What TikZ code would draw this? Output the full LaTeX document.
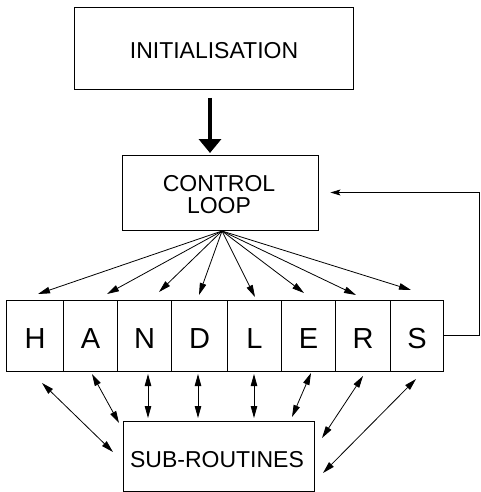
\documentclass[tikz,border=0pt]{standalone}
\usepackage{fontspec}
\setmainfont{Liberation Sans}
\usetikzlibrary{arrows.meta}
\begin{document}
\begin{tikzpicture}[x=1pt,y=-1pt,line width=0.8pt,
  box/.style={draw,rectangle,inner sep=0pt,line width=0.9pt},
  lbl/.style={inner sep=0pt,anchor=base,font=\fontsize{23}{22}\selectfont},
  big/.style={inner sep=0pt,anchor=base,font=\fontsize{29}{29}\selectfont},
  head/.style={Triangle[length=12pt,width=6.5pt]},
  tip/.style={-{Triangle[length=12pt,width=6.5pt]}},
  both/.style={{Triangle[length=12pt,width=6.5pt]}-{Triangle[length=12pt,width=6.5pt]}}]
\useasboundingbox (0,0) rectangle (481,492);

% main boxes
\node[box,minimum width=279pt,minimum height=82pt] (init) at (213.5,48) {};
\node[lbl] (initT) at (214,59) {INITIALISATION};
\node[box,minimum width=196pt,minimum height=75pt] (ctrl) at (220,192.5) {};
\node[lbl] (ctrlA) at (219,191) {CONTROL};
\node[lbl] (ctrlB) at (219,213) {LOOP};
\node[box,minimum width=191pt,minimum height=70pt] (sub) at (218.5,456) {};
\node[lbl] (subT) at (217,467) {SUB-ROUTINES};

% handler cells
\foreach \a/\b/\t [count=\i] in {6/63/H,63/117/A,117/171/N,171/227/D,227/281/L,281/335/E,335/390/R,390/443/S}{
  \pgfmathsetmacro{\w}{\b-\a}
  \pgfmathsetmacro{\c}{(\a+\b)/2}
  \node[box,minimum width=\w pt,minimum height=71pt] (h\i) at (\c,335.5) {};
  \node[big] (l\i) at (\c+0.5,348) {\t};
}

% thick arrow from initialisation to control loop
\coordinate (ia) at (210,98);
\coordinate (ib) at (210,153);
\draw[line width=4.5pt,-{Triangle[length=14pt,width=22pt]}] (ia) -- (ib);

% fan from control loop to handlers
\coordinate (fan) at (222,231);
\foreach \x/\y [count=\i] in {38/294,107/294,159/292,199/295,255/297,304/293,356/295,411/290}{
  \coordinate (t\i) at (\x,\y);
  \draw[tip] (fan) -- (t\i);
}

% handlers <-> sub-routines
\foreach \xa/\ya/\xb/\yb [count=\i] in {42/383/113/452, 92/374/119/423, 148/374/148/418, 198/374/198/418,
   254/374/254/418, 311/373/292/417, 363/376/322/438, 416/379/323/473}{
  \coordinate (p\i) at (\xa,\ya);
  \coordinate (q\i) at (\xb,\yb);
  \draw[both] (p\i) -- (q\i);
}

% feedback loop back to control loop
\coordinate (rc) at (479.5,0);
\draw[line width=0.7pt,-{Stealth[length=10pt,width=6pt,inset=2pt]},shorten >=12pt]
  (h8.east) -- (h8.east -| rc) |- (ctrl.east);
\end{tikzpicture}
\end{document}
